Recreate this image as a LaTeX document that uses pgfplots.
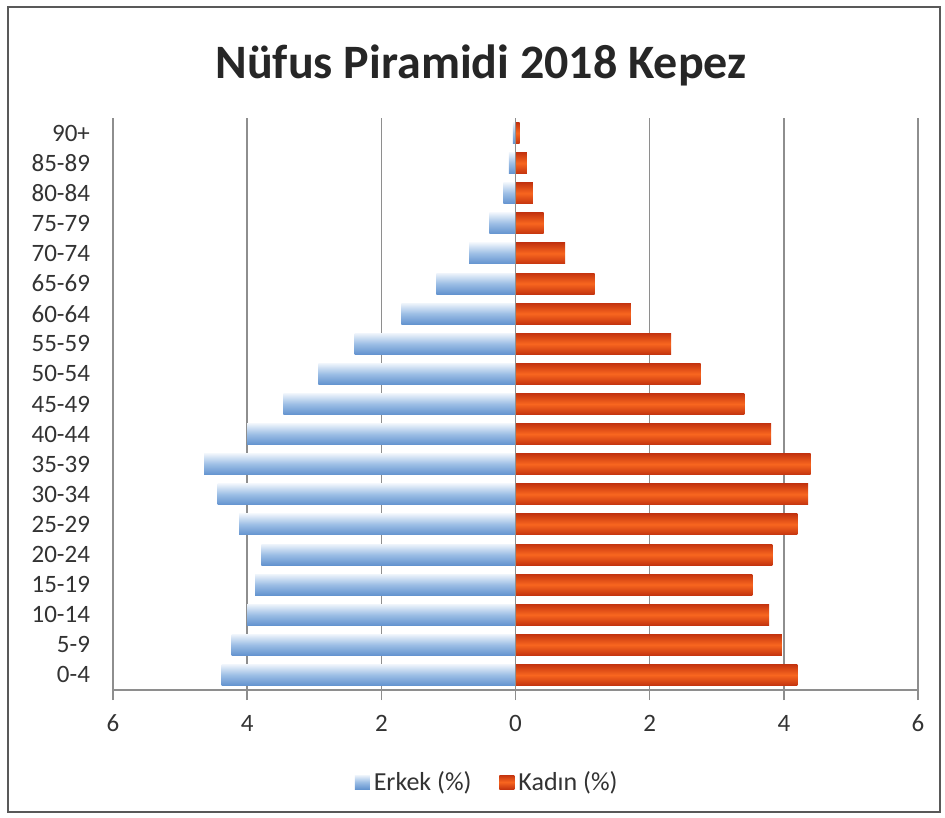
\documentclass[border=0pt]{standalone}
\usepackage{fontspec}
\setmainfont{Carlito}
\usepackage{pgfplots}
\pgfplotsset{compat=1.18}
\definecolor{blueTop}{HTML}{EEF4FB}
\definecolor{blueMid}{HTML}{9CBEE5}
\definecolor{blueBot}{HTML}{6393CF}
\definecolor{redEdge}{HTML}{C4340F}
\definecolor{redMid}{HTML}{F8661F}
\definecolor{gridgray}{HTML}{8E8E8E}
\begin{document}
\begin{tikzpicture}
\useasboundingbox (0pt,0pt) rectangle (472.5pt,408.5pt);
\draw[black!65, line width=1.2pt] (4pt,2.5pt) rectangle (470pt,405pt);
\node[font=\fontsize{24}{28}\selectfont\bfseries, text=black!85] at (240.5pt,376pt) {Nüfus Piramidi 2018 Kepez};
\begin{axis}[
  at={(56.5pt,63.5pt)}, anchor=south west,
  scale only axis, width=402.5pt, height=286pt,
  xbar, bar width=10.5pt,
  xmin=-6, xmax=6, ymin=-0.5, ymax=18.5,
  xtick={-6,-4,...,6},
  xticklabel={\pgfmathparse{abs(\tick)}\pgfmathprintnumber{\pgfmathresult}},
  /pgf/number format/assume math mode=true,
  ytick={0,...,18},
  yticklabels={0-4,5-9,10-14,15-19,20-24,25-29,30-34,35-39,40-44,45-49,50-54,55-59,60-64,65-69,70-74,75-79,80-84,85-89,90+},
  tick label style={font=\fontsize{12.5}{14}\selectfont, text=black!80},
  xticklabel style={yshift=-4pt},
  yticklabel style={xshift=-3pt},
  xmajorgrids, grid style={gridgray, line width=0.8pt},
  axis x line*=bottom, axis y line*=left,
  x axis line style={gridgray, line width=0.8pt, -},
  y axis line style={draw=none},
  ytick style={draw=none},
  xtick style={gridgray, line width=0.8pt},
  tick align=outside, major tick length=5pt,
  legend style={at={(0.466,-0.161)}, anchor=center, draw=none, legend columns=2,
    font=\fontsize{13}{15}\selectfont, text=black!80,
    /tikz/every even column/.append style={column sep=12pt}},
  legend image code/.code={\draw[#1, draw=none] (0pt,-3.5pt) rectangle (7.5pt,3.5pt);},
  bar shift=0pt,
  erk/.style={draw=none, top color=blueTop, bottom color=blueBot, middle color=blueMid},
  kad/.style={draw=none, top color=redEdge, bottom color=redEdge, middle color=redMid},
]
% one plot per age group so that each bar gets its own shading
\addplot[erk] coordinates {(-4.38,0)};
\addlegendentry{Erkek (\%)}
\addplot[kad] coordinates {(4.20,0)};
\addlegendentry{Kadın (\%)}
% Erkek (%)
\addplot[erk, forget plot] coordinates {(-4.23,1)};
\addplot[erk, forget plot] coordinates {(-4.00,2)};
\addplot[erk, forget plot] coordinates {(-3.88,3)};
\addplot[erk, forget plot] coordinates {(-3.79,4)};
\addplot[erk, forget plot] coordinates {(-4.12,5)};
\addplot[erk, forget plot] coordinates {(-4.44,6)};
\addplot[erk, forget plot] coordinates {(-4.64,7)};
\addplot[erk, forget plot] coordinates {(-4.00,8)};
\addplot[erk, forget plot] coordinates {(-3.46,9)};
\addplot[erk, forget plot] coordinates {(-2.94,10)};
\addplot[erk, forget plot] coordinates {(-2.40,11)};
\addplot[erk, forget plot] coordinates {(-1.70,12)};
\addplot[erk, forget plot] coordinates {(-1.18,13)};
\addplot[erk, forget plot] coordinates {(-0.69,14)};
\addplot[erk, forget plot] coordinates {(-0.39,15)};
\addplot[erk, forget plot] coordinates {(-0.18,16)};
\addplot[erk, forget plot] coordinates {(-0.10,17)};
\addplot[erk, forget plot] coordinates {(-0.04,18)};
% Kadın (%)
\addplot[kad, forget plot] coordinates {(3.97,1)};
\addplot[kad, forget plot] coordinates {(3.78,2)};
\addplot[kad, forget plot] coordinates {(3.53,3)};
\addplot[kad, forget plot] coordinates {(3.83,4)};
\addplot[kad, forget plot] coordinates {(4.20,5)};
\addplot[kad, forget plot] coordinates {(4.36,6)};
\addplot[kad, forget plot] coordinates {(4.40,7)};
\addplot[kad, forget plot] coordinates {(3.81,8)};
\addplot[kad, forget plot] coordinates {(3.41,9)};
\addplot[kad, forget plot] coordinates {(2.76,10)};
\addplot[kad, forget plot] coordinates {(2.32,11)};
\addplot[kad, forget plot] coordinates {(1.72,12)};
\addplot[kad, forget plot] coordinates {(1.18,13)};
\addplot[kad, forget plot] coordinates {(0.74,14)};
\addplot[kad, forget plot] coordinates {(0.42,15)};
\addplot[kad, forget plot] coordinates {(0.26,16)};
\addplot[kad, forget plot] coordinates {(0.17,17)};
\addplot[kad, forget plot] coordinates {(0.06,18)};
\draw[gridgray, line width=0.8pt] (axis cs:0,-0.5) -- (axis cs:0,18.5);
\end{axis}
\end{tikzpicture}
\end{document}
